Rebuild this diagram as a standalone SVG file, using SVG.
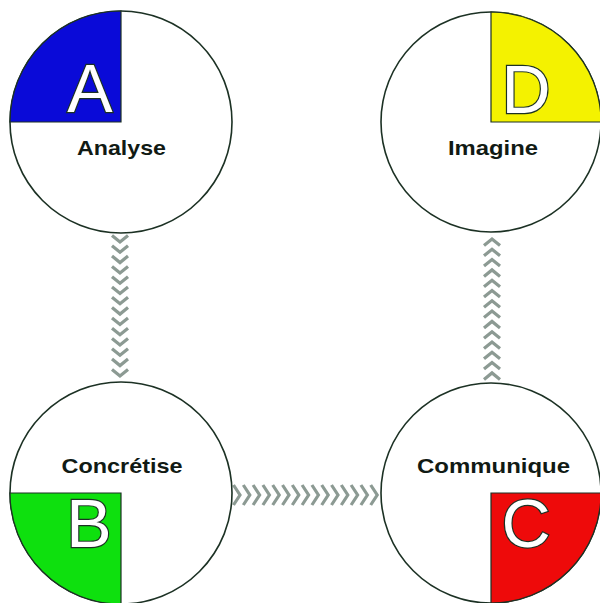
<svg xmlns="http://www.w3.org/2000/svg" xmlns:xlink="http://www.w3.org/1999/xlink" width="600" height="603" viewBox="0 0 600 603">
<style>
.ring{fill:#ffffff;stroke:#1c3124;stroke-width:1.6}
.quad{stroke:#1c3124;stroke-width:1.2}
.big{font-family:"Liberation Sans",Arial,sans-serif;font-size:68px;fill:#ffffff;stroke:#1c3124;stroke-width:2.4;paint-order:stroke;text-anchor:middle}
.lbl{font-family:"Liberation Sans",Arial,sans-serif;font-weight:bold;font-size:21px;fill:#111a14;text-anchor:middle}
.chev{fill:none;stroke:#8c9a93;stroke-width:3.2;filter:url(#soft)}
</style>
<defs>
<filter id="soft" x="-50%" y="-50%" width="200%" height="200%"><feGaussianBlur stdDeviation="0.6"/></filter>
<path id="down" d="M-8,-3.5 L0,3 L8,-3.5"/>
<path id="up" d="M-8,3.5 L0,-3 L8,3.5"/>
<path id="right" d="M-3.5,-10 L3,0 L-3.5,10"/>
</defs>
<rect width="600" height="603" fill="#ffffff"/>
<g id="connectors">
<g id="a-to-b" class="chev">
<use xlink:href="#down" x="120" y="239"/><use xlink:href="#down" x="120" y="249.3"/><use xlink:href="#down" x="120" y="259.6"/><use xlink:href="#down" x="120" y="269.9"/><use xlink:href="#down" x="120" y="280.2"/><use xlink:href="#down" x="120" y="290.5"/><use xlink:href="#down" x="120" y="300.8"/><use xlink:href="#down" x="120" y="311.1"/><use xlink:href="#down" x="120" y="321.4"/><use xlink:href="#down" x="120" y="331.7"/><use xlink:href="#down" x="120" y="342"/><use xlink:href="#down" x="120" y="352.3"/><use xlink:href="#down" x="120" y="362.6"/><use xlink:href="#down" x="120" y="372.9"/>
</g>
<g id="b-to-c" class="chev">
<use xlink:href="#right" x="237" y="495"/><use xlink:href="#right" x="246.8" y="495"/><use xlink:href="#right" x="256.6" y="495"/><use xlink:href="#right" x="266.4" y="495"/><use xlink:href="#right" x="276.2" y="495"/><use xlink:href="#right" x="286" y="495"/><use xlink:href="#right" x="295.8" y="495"/><use xlink:href="#right" x="305.6" y="495"/><use xlink:href="#right" x="315.4" y="495"/><use xlink:href="#right" x="325.2" y="495"/><use xlink:href="#right" x="335" y="495"/><use xlink:href="#right" x="344.8" y="495"/><use xlink:href="#right" x="354.6" y="495"/><use xlink:href="#right" x="364.4" y="495"/><use xlink:href="#right" x="374.2" y="495"/>
</g>
<g id="c-to-d" class="chev">
<use xlink:href="#up" x="492" y="242"/><use xlink:href="#up" x="492" y="252.3"/><use xlink:href="#up" x="492" y="262.6"/><use xlink:href="#up" x="492" y="272.9"/><use xlink:href="#up" x="492" y="283.2"/><use xlink:href="#up" x="492" y="293.5"/><use xlink:href="#up" x="492" y="303.8"/><use xlink:href="#up" x="492" y="314.1"/><use xlink:href="#up" x="492" y="324.4"/><use xlink:href="#up" x="492" y="334.7"/><use xlink:href="#up" x="492" y="345"/><use xlink:href="#up" x="492" y="355.3"/><use xlink:href="#up" x="492" y="365.6"/><use xlink:href="#up" x="492" y="375.9"/>
</g>
</g>
<g id="node-a">
<circle class="ring" cx="121" cy="122" r="111"/>
<path class="quad" fill="#0a0ad8" d="M121,122 L10,122 A111,111 0 0 1 121,11 Z"/>
<text class="big" x="90" y="112">A</text>
<text class="lbl" x="121.5" y="155" textLength="89" lengthAdjust="spacingAndGlyphs">Analyse</text>
</g>
<g id="node-d">
<circle class="ring" cx="491" cy="122" r="110"/>
<path class="quad" fill="#f4f200" d="M491,122 L491,12 A110,110 0 0 1 601,122 Z"/>
<text class="big" x="526" y="113">D</text>
<text class="lbl" x="493" y="155" textLength="90" lengthAdjust="spacingAndGlyphs">Imagine</text>
</g>
<g id="node-b">
<circle class="ring" cx="121" cy="493" r="111"/>
<path class="quad" fill="#0ee00e" d="M121,493 L10,493 A111,111 0 0 0 121,604 Z"/>
<text class="big" x="89" y="547">B</text>
<text class="lbl" x="122" y="473" textLength="121" lengthAdjust="spacingAndGlyphs">Concrétise</text>
</g>
<g id="node-c">
<circle class="ring" cx="491" cy="493" r="110"/>
<path class="quad" fill="#ee0a0a" d="M491,493 L601,493 A110,110 0 0 1 491,603 Z"/>
<text class="big" x="526" y="547">C</text>
<text class="lbl" x="493.5" y="473" textLength="153" lengthAdjust="spacingAndGlyphs">Communique</text>
</g>
</svg>
